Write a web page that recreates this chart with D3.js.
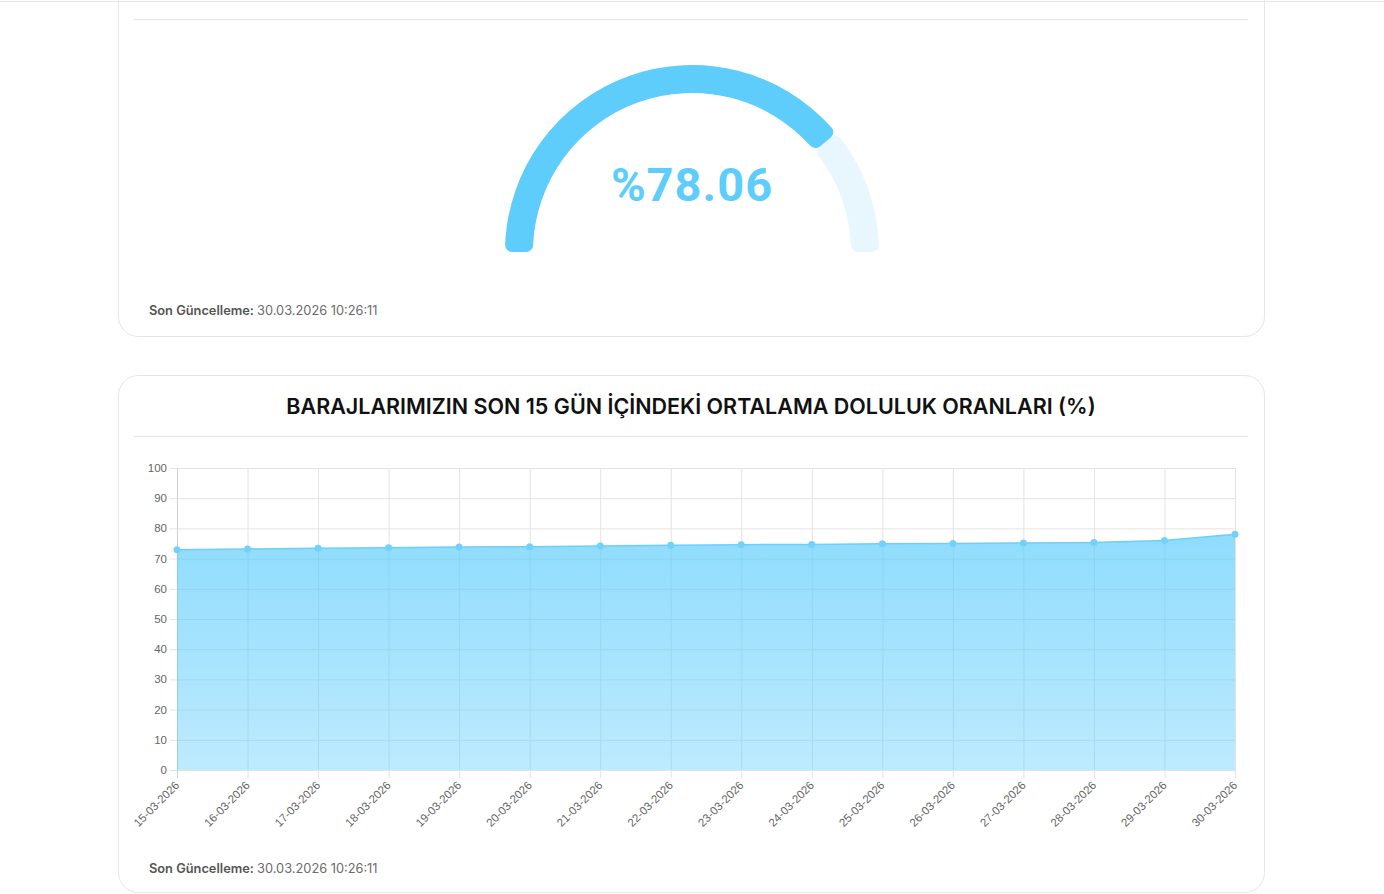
<!DOCTYPE html>
<html>
<head>
<meta charset="utf-8">
<script src="https://cdn.jsdelivr.net/npm/d3@7"></script>
<style>
  html, body { margin: 0; padding: 0; background: #fff; }
  svg { display: block; }
</style>
</head>
<body>
<div id="page"></div>
<script>
// current average fill ratio (gauge)
let currentRatio = 78.06
let updatedAt = "30.03.2026 10:26:11"

// last 15 days
let dates = ["15-03-2026", "16-03-2026", "17-03-2026", "18-03-2026", "19-03-2026", "20-03-2026",
  "21-03-2026", "22-03-2026", "23-03-2026", "24-03-2026", "25-03-2026", "26-03-2026",
  "27-03-2026", "28-03-2026", "29-03-2026", "30-03-2026"]
let ratios = [72.95, 73.2, 73.4, 73.6, 73.8, 73.95, 74.2, 74.4, 74.6, 74.7, 74.9, 75.0, 75.2, 75.3, 76.0, 78.06]
let yTicks = [0, 10, 20, 30, 40, 50, 60, 70, 80, 90, 100]

let width = 1384,
  height = 894

let svg = d3.select("#page").append("svg")
  .attr("width", width)
  .attr("height", height)

let border = "#e6e6e6"

// header border
svg.append("line")
  .attr("x1", 0).attr("x2", width)
  .attr("y1", 1.5).attr("y2", 1.5)
  .attr("stroke", border)

// cards
svg.append("rect")
  .attr("x", 118.5).attr("y", -40)
  .attr("width", 1146).attr("height", 376.5)
  .attr("rx", 20)
  .attr("fill", "none").attr("stroke", border)
svg.append("rect")
  .attr("x", 118.5).attr("y", 375.5)
  .attr("width", 1146).attr("height", 517)
  .attr("rx", 20)
  .attr("fill", "none").attr("stroke", border)

svg.selectAll("line.sep")
  .data([19.5, 436.5])
  .enter().append("line")
  .attr("class", "sep")
  .attr("x1", 134).attr("x2", 1248)
  .attr("y1", d => d).attr("y2", d => d)
  .attr("stroke", border)

// ---- gauge ----
let gauge = svg.append("g").attr("transform", "translate(692,252)")
let arc = d3.arc()
  .innerRadius(159)
  .outerRadius(187)
  .cornerRadius(7)

let split = -Math.PI / 2 + Math.PI * currentRatio / 100

gauge.append("path")
  .attr("d", arc({ startAngle: split, endAngle: Math.PI / 2 }))
  .attr("fill", "#e8f6fd")
gauge.append("path")
  .attr("d", arc({ startAngle: -Math.PI / 2, endAngle: split }))
  .attr("fill", "#5ecdfc")

gauge.append("text")
  .attr("x", 0).attr("y", -51)
  .attr("text-anchor", "middle")
  .style("font-family", "Roboto, sans-serif")
  .style("font-weight", 700)
  .style("font-size", "47px")
  .style("letter-spacing", "1px")
  .attr("fill", "#5ecdfc")
  .text("%" + currentRatio.toFixed(2))

// footers
function footer(y) {
  let t = svg.append("text")
    .attr("x", 149).attr("y", y)
    .style("font-family", "Inter, sans-serif")
    .style("font-size", "12.8px")
  t.append("tspan").style("font-weight", 600).attr("fill", "#555").text("Son Güncelleme: ")
  t.append("tspan").style("font-weight", 400).attr("fill", "#6b6b6b").text(updatedAt)
}
footer(315)
footer(873)

// ---- title ----
svg.append("text")
  .attr("x", 691).attr("y", 414)
  .attr("text-anchor", "middle")
  .style("font-family", "Inter, sans-serif")
  .style("font-weight", 600)
  .style("font-size", "21.5px")
  .attr("fill", "#111")
  .text("BARAJLARIMIZIN SON 15 GÜN İÇİNDEKİ ORTALAMA DOLULUK ORANLARI (%)")

// ---- area chart ----
let x = d3.scalePoint()
  .domain(dates)
  .range([177, 1235])

let y = d3.scaleLinear()
  .domain([0, 100])
  .range([770, 468])

let chart = svg.append("g")
let grid = "#e3e3e3"

let defs = svg.append("defs")
let grad = defs.append("linearGradient")
  .attr("id", "fillGrad")
  .attr("gradientUnits", "userSpaceOnUse")
  .attr("x1", 0).attr("x2", 0)
  .attr("y1", y(d3.max(ratios))).attr("y2", y(0))
grad.append("stop").attr("offset", "0%").attr("stop-color", "#5fcdfc").attr("stop-opacity", 0.7)
grad.append("stop").attr("offset", "100%").attr("stop-color", "#5fcdfc").attr("stop-opacity", 0.41)

// grid
chart.selectAll("line.hgrid")
  .data(yTicks)
  .enter().append("line")
  .attr("class", "hgrid")
  .attr("x1", 170).attr("x2", 1235)
  .attr("y1", d => y(d) + 0.5).attr("y2", d => y(d) + 0.5)
  .attr("stroke", grid)

chart.selectAll("line.vgrid")
  .data(dates)
  .enter().append("line")
  .attr("class", "vgrid")
  .attr("x1", d => x(d) + 0.5).attr("x2", d => x(d) + 0.5)
  .attr("y1", y(100)).attr("y2", y(0) + 8)
  .attr("stroke", grid)

chart.append("line")
  .attr("x1", 177.5).attr("x2", 177.5)
  .attr("y1", y(100)).attr("y2", y(0) + 8)
  .attr("stroke", "#cfcfcf")

let area = d3.area()
  .x((d, i) => x(dates[i]))
  .y0(y(0))
  .y1(d => y(d))

let line = d3.line()
  .x((d, i) => x(dates[i]))
  .y(d => y(d))

chart.append("path")
  .datum(ratios)
  .attr("d", area)
  .attr("fill", "url(#fillGrad)")

chart.append("path")
  .datum(ratios)
  .attr("d", line)
  .attr("fill", "none")
  .attr("stroke", "#6ccff9")
  .attr("stroke-width", 1.5)

chart.selectAll("circle")
  .data(ratios)
  .enter().append("circle")
  .attr("cx", (d, i) => x(dates[i]))
  .attr("cy", d => y(d))
  .attr("r", 3.5)
  .attr("fill", "#72d1fb")

// y labels
chart.selectAll("text.ylab")
  .data(yTicks)
  .enter().append("text")
  .attr("class", "ylab")
  .attr("x", 167).attr("y", d => y(d) + 4)
  .attr("text-anchor", "end")
  .style("font-family", "'Liberation Sans', Arial, sans-serif")
  .style("font-size", "11.5px")
  .attr("fill", "#666")
  .text(d => d)

// x labels
chart.selectAll("text.xlab")
  .data(dates)
  .enter().append("text")
  .attr("class", "xlab")
  .attr("transform", d => "translate(" + (x(d) + 3) + "," + (y(0) + 16) + ") rotate(-45)")
  .attr("text-anchor", "end")
  .style("font-family", "'Liberation Sans', Arial, sans-serif")
  .style("font-size", "11.5px")
  .attr("fill", "#666")
  .text(d => d)
</script>
</body>
</html>
